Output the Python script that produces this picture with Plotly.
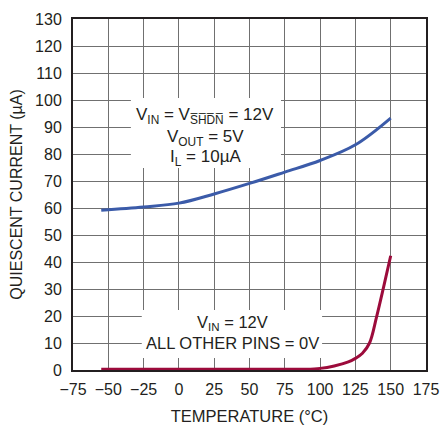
import plotly.graph_objects as go

temp_blue = [-55, -25, 0, 25, 50, 75, 100, 125, 150]
iq_blue = [59.2, 60.4, 61.8, 65.2, 69.1, 73.3, 77.6, 83.4, 93.3]

temp_red = [-55, 0, 50, 90, 100, 110, 120, 125, 130, 135, 140, 145, 150]
iq_red = [0.3, 0.3, 0.3, 0.3, 0.6, 1.5, 3.0, 4.3, 6.2, 10.0, 19.7, 30.8, 42.3]

x_ticks = [-75, -50, -25, 0, 25, 50, 75, 100, 125, 150, 175]
x_labels = ["\u221275", "\u221250", "\u221225", "0", "25", "50", "75", "100", "125", "150", "175"]
y_ticks = list(range(0, 131, 10))

FONT = "Liberation Sans, Arial"
INK = "#231f20"

fig = go.Figure()
fig.add_trace(go.Scatter(x=temp_blue, y=iq_blue, mode="lines",
                         line=dict(color="#3b5ba9", width=3, shape="spline"),
                         showlegend=False))
fig.add_trace(go.Scatter(x=temp_red, y=iq_red, mode="lines",
                         line=dict(color="#9c0b3b", width=3, shape="spline"),
                         showlegend=False))

# white boxes behind labels (between grid and traces)
fig.add_shape(type="rect", x0=-34, x1=72.3, y0=74.8, y1=100.7, layer="between",
              fillcolor="white", line=dict(width=0))
fig.add_shape(type="rect", x0=-26.3, x1=101.4, y0=4.4, y1=22.2, layer="between",
              fillcolor="white", line=dict(width=0))

shdn = "S\u0305H\u0305D\u0305N\u0305"
anns = [
    (18.6, 94.1, "V<sub>IN</sub> = V<sub>" + shdn + "</sub> = 12V", 17),
    (18.6, 86.0, "V<sub>OUT</sub> = 5V", 17),
    (18.6, 78.6, "I<sub>L</sub> = 10\u00b5A", 17),
    (37.7, 17.3, "V<sub>IN</sub> = 12V", 16.5),
    (37.7, 9.9, "ALL OTHER PINS = 0V", 16.5),
]
for x, y, t, s in anns:
    fig.add_annotation(x=x, y=y, text=t, showarrow=False,
                       font=dict(family=FONT, size=s, color=INK),
                       xanchor="center", yanchor="middle")

fig.update_layout(
    width=441, height=428,
    margin=dict(l=73, r=15, t=19, b=58),
    paper_bgcolor="white", plot_bgcolor="white",
    font=dict(family=FONT, size=16, color=INK),
)
fig.update_xaxes(range=[-75, 175], tickvals=x_ticks, ticktext=x_labels,
                 showgrid=True, gridcolor="#707070", gridwidth=1,
                 showline=True, linecolor=INK, linewidth=2, mirror=True,
                 ticks="", zeroline=False, automargin=False, ticklabelstandoff=4,
                 title=dict(text="TEMPERATURE (\u00b0C)", font=dict(size=16.5), standoff=13))
fig.update_yaxes(range=[0, 130], tickvals=y_ticks,
                 showgrid=True, gridcolor="#707070", gridwidth=1,
                 showline=True, linecolor=INK, linewidth=2, mirror=True,
                 ticks="", zeroline=False, automargin=False, ticklabelstandoff=6,
                 title=dict(text="QUIESCENT CURRENT (\u00b5A)", font=dict(size=16), standoff=8))

# remove the page's default body margin so the figure fills the window exactly
fig.write_html("out.html",
               config={"displayModeBar": False},
               post_script="document.body.style.margin='0';document.body.style.overflow='hidden';")
